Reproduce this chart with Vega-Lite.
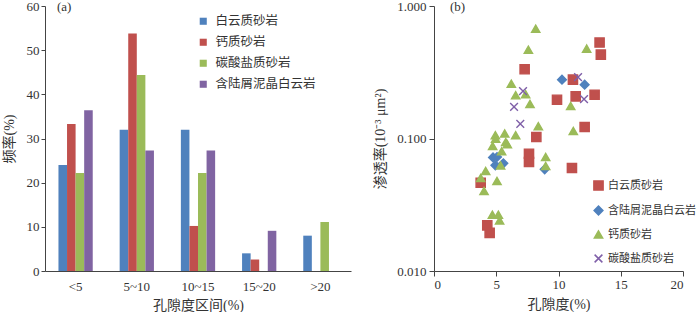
{
  "$schema": "https://vega.github.io/schema/vega-lite/v6.json",
  "padding": {"left": 2, "top": 0, "right": 0, "bottom": 0},
  "spacing": 22,
  "config": {
    "view": {"stroke": null},
    "font": "Liberation Serif, Noto Sans CJK SC",
    "axis": {"grid": false, "domainColor": "#444", "tickColor": "#444", "labelColor": "#333", "titleColor": "#333", "labelFont": "Liberation Serif", "labelFontSize": 13, "titleFont": "Liberation Serif, Noto Sans CJK SC", "titleFontSize": 14, "titleFontWeight": "normal"},
    "legend": {"labelFont": "Liberation Serif, Noto Sans CJK SC", "labelFontSize": 13, "labelColor": "#333"}
  },
  "hconcat": [
    {
      "width": 306,
      "height": 265,
      "title": {"text": "(a)", "anchor": "start", "frame": "group", "offset": -14, "dx": 12, "fontSize": 13, "fontWeight": "normal", "font": "Liberation Serif", "color": "#333"},
      "data": {"values": [
        {"group": "<5", "type": "白云质砂岩", "value": 24},
        {"group": "<5", "type": "钙质砂岩", "value": 33.3},
        {"group": "<5", "type": "碳酸盐质砂岩", "value": 22.2},
        {"group": "<5", "type": "含陆屑泥晶白云岩", "value": 36.4},
        {"group": "5~10", "type": "白云质砂岩", "value": 32},
        {"group": "5~10", "type": "钙质砂岩", "value": 53.8},
        {"group": "5~10", "type": "碳酸盐质砂岩", "value": 44.4},
        {"group": "5~10", "type": "含陆屑泥晶白云岩", "value": 27.3},
        {"group": "10~15", "type": "白云质砂岩", "value": 32},
        {"group": "10~15", "type": "钙质砂岩", "value": 10.2},
        {"group": "10~15", "type": "碳酸盐质砂岩", "value": 22.2},
        {"group": "10~15", "type": "含陆屑泥晶白云岩", "value": 27.3},
        {"group": "15~20", "type": "白云质砂岩", "value": 4},
        {"group": "15~20", "type": "钙质砂岩", "value": 2.6},
        {"group": "15~20", "type": "碳酸盐质砂岩", "value": 0},
        {"group": "15~20", "type": "含陆屑泥晶白云岩", "value": 9.1},
        {"group": ">20", "type": "白云质砂岩", "value": 8},
        {"group": ">20", "type": "钙质砂岩", "value": 0},
        {"group": ">20", "type": "碳酸盐质砂岩", "value": 11.1},
        {"group": ">20", "type": "含陆屑泥晶白云岩", "value": 0}
      ]},
      "mark": {"type": "bar"},
      "encoding": {
        "x": {"field": "group", "type": "nominal", "sort": ["<5", "5~10", "10~15", "15~20", ">20"], "scale": {"paddingInner": 0.44, "paddingOuter": 0.22}, "axis": {"title": "孔隙度区间(%)", "labelAngle": 0, "ticks": false, "labelPadding": 9, "titlePadding": 5}},
        "xOffset": {"field": "type", "type": "nominal", "sort": ["白云质砂岩", "钙质砂岩", "碳酸盐质砂岩", "含陆屑泥晶白云岩"]},
        "y": {"field": "value", "type": "quantitative", "scale": {"domain": [0, 60]}, "axis": {"title": "频率(%)", "values": [0, 10, 20, 30, 40, 50, 60], "tickSize": 4, "titlePadding": 10}},
        "color": {"field": "type", "type": "nominal", "sort": ["白云质砂岩", "钙质砂岩", "碳酸盐质砂岩", "含陆屑泥晶白云岩"], "scale": {"domain": ["白云质砂岩", "钙质砂岩", "碳酸盐质砂岩", "含陆屑泥晶白云岩"], "range": ["#4F81BD", "#C0504D", "#9BBB59", "#8064A2"]}, "legend": {"title": null, "orient": "none", "legendX": 152, "legendY": 9, "symbolType": "square", "symbolSize": 50, "rowPadding": 8, "labelOffset": 6, "labelFontSize": 12.5}}
      }
    },
    {
      "width": 249,
      "height": 265,
      "title": {"text": "(b)", "anchor": "start", "frame": "group", "offset": -14, "dx": 16, "fontSize": 13, "fontWeight": "normal", "font": "Liberation Serif", "color": "#333"},
      "data": {"values": [
        {"type": "白云质砂岩", "phi": 13.3, "k": 0.53},
        {"type": "白云质砂岩", "phi": 13.4, "k": 0.43},
        {"type": "白云质砂岩", "phi": 7.28, "k": 0.333},
        {"type": "白云质砂岩", "phi": 11.16, "k": 0.278},
        {"type": "白云质砂岩", "phi": 9.88, "k": 0.196},
        {"type": "白云质砂岩", "phi": 11.38, "k": 0.208},
        {"type": "白云质砂岩", "phi": 12.9, "k": 0.214},
        {"type": "白云质砂岩", "phi": 12.1, "k": 0.122},
        {"type": "白云质砂岩", "phi": 8.22, "k": 0.1026},
        {"type": "白云质砂岩", "phi": 7.63, "k": 0.0768},
        {"type": "白云质砂岩", "phi": 7.63, "k": 0.0665},
        {"type": "白云质砂岩", "phi": 11.08, "k": 0.0599},
        {"type": "白云质砂岩", "phi": 3.75, "k": 0.0464},
        {"type": "白云质砂岩", "phi": 4.28, "k": 0.0221},
        {"type": "白云质砂岩", "phi": 4.47, "k": 0.0194},
        {"type": "含陆屑泥晶白云岩", "phi": 10.28, "k": 0.278},
        {"type": "含陆屑泥晶白云岩", "phi": 12.1, "k": 0.255},
        {"type": "含陆屑泥晶白云岩", "phi": 4.74, "k": 0.072},
        {"type": "含陆屑泥晶白云岩", "phi": 5.06, "k": 0.0725},
        {"type": "含陆屑泥晶白云岩", "phi": 4.93, "k": 0.0627},
        {"type": "含陆屑泥晶白云岩", "phi": 5.57, "k": 0.065},
        {"type": "含陆屑泥晶白云岩", "phi": 8.89, "k": 0.0585},
        {"type": "钙质砂岩", "phi": 8.17, "k": 0.675},
        {"type": "钙质砂岩", "phi": 7.58, "k": 0.468},
        {"type": "钙质砂岩", "phi": 12.26, "k": 0.477},
        {"type": "钙质砂岩", "phi": 6.21, "k": 0.259},
        {"type": "钙质砂岩", "phi": 6.56, "k": 0.212},
        {"type": "钙质砂岩", "phi": 7.36, "k": 0.216},
        {"type": "钙质砂岩", "phi": 7.71, "k": 0.182},
        {"type": "钙质砂岩", "phi": 10.98, "k": 0.176},
        {"type": "钙质砂岩", "phi": 8.38, "k": 0.124},
        {"type": "钙质砂岩", "phi": 11.19, "k": 0.114},
        {"type": "钙质砂岩", "phi": 4.93, "k": 0.106},
        {"type": "钙质砂岩", "phi": 4.95, "k": 0.0995},
        {"type": "钙质砂岩", "phi": 5.68, "k": 0.109},
        {"type": "钙质砂岩", "phi": 6.56, "k": 0.106},
        {"type": "钙质砂岩", "phi": 4.71, "k": 0.0878},
        {"type": "钙质砂岩", "phi": 5.76, "k": 0.094},
        {"type": "钙质砂岩", "phi": 5.89, "k": 0.0905},
        {"type": "钙质砂岩", "phi": 5.43, "k": 0.08},
        {"type": "钙质砂岩", "phi": 8.97, "k": 0.0725},
        {"type": "钙质砂岩", "phi": 8.97, "k": 0.062},
        {"type": "钙质砂岩", "phi": 5.35, "k": 0.0627},
        {"type": "钙质砂岩", "phi": 4.15, "k": 0.0569},
        {"type": "钙质砂岩", "phi": 3.75, "k": 0.0504},
        {"type": "钙质砂岩", "phi": 5.06, "k": 0.0478},
        {"type": "钙质砂岩", "phi": 4.02, "k": 0.0402},
        {"type": "钙质砂岩", "phi": 4.69, "k": 0.0266},
        {"type": "钙质砂岩", "phi": 5.17, "k": 0.0266},
        {"type": "钙质砂岩", "phi": 5.27, "k": 0.0241},
        {"type": "碳酸盐质砂岩", "phi": 11.57, "k": 0.291},
        {"type": "碳酸盐质砂岩", "phi": 7.15, "k": 0.228},
        {"type": "碳酸盐质砂岩", "phi": 6.43, "k": 0.173},
        {"type": "碳酸盐质砂岩", "phi": 12.05, "k": 0.198},
        {"type": "碳酸盐质砂岩", "phi": 6.93, "k": 0.129}
      ]},
      "mark": {"type": "point", "opacity": 1, "strokeWidth": 1.4},
      "encoding": {
        "x": {"field": "phi", "type": "quantitative", "scale": {"domain": [0, 20], "nice": false}, "axis": {"title": "孔隙度(%)", "values": [0, 5, 10, 15, 20], "tickSize": 5, "labelPadding": 2, "titlePadding": 6}},
        "y": {"field": "k", "type": "quantitative", "scale": {"type": "log", "domain": [0.01, 1], "nice": false}, "axis": {"title": "渗透率(10⁻³ μm²)", "values": [0.01, 0.1, 1], "format": ".3f", "tickSize": 5, "labelPadding": 3, "titlePadding": 9}},
        "shape": {"field": "type", "type": "nominal", "scale": {"domain": ["白云质砂岩", "含陆屑泥晶白云岩", "钙质砂岩", "碳酸盐质砂岩"], "range": ["square", "diamond", "triangle-up", "M-1,-1L1,1M1,-1L-1,1"]}, "legend": {"title": null, "orient": "none", "legendX": 548, "legendY": 174, "rowPadding": 9, "labelOffset": 4, "labelFontSize": 11}},
        "fill": {"field": "type", "type": "nominal", "scale": {"domain": ["白云质砂岩", "含陆屑泥晶白云岩", "钙质砂岩", "碳酸盐质砂岩"], "range": ["#C0504D", "#4F81BD", "#9BBB59", "transparent"]}, "legend": {"title": null, "orient": "none", "legendX": 548, "legendY": 174, "rowPadding": 9, "labelOffset": 4, "labelFontSize": 11}},
        "stroke": {"field": "type", "type": "nominal", "scale": {"domain": ["白云质砂岩", "含陆屑泥晶白云岩", "钙质砂岩", "碳酸盐质砂岩"], "range": ["#C0504D", "#4F81BD", "#9BBB59", "#7F5FA8"]}, "legend": {"title": null, "orient": "none", "legendX": 548, "legendY": 174, "rowPadding": 9, "labelOffset": 4, "labelFontSize": 11}},
        "size": {"field": "type", "type": "nominal", "scale": {"domain": ["白云质砂岩", "含陆屑泥晶白云岩", "钙质砂岩", "碳酸盐质砂岩"], "range": [85, 60, 95, 40]}, "legend": {"title": null, "orient": "none", "legendX": 548, "legendY": 174, "rowPadding": 9, "labelOffset": 4, "labelFontSize": 11}}
      }
    }
  ]
}
